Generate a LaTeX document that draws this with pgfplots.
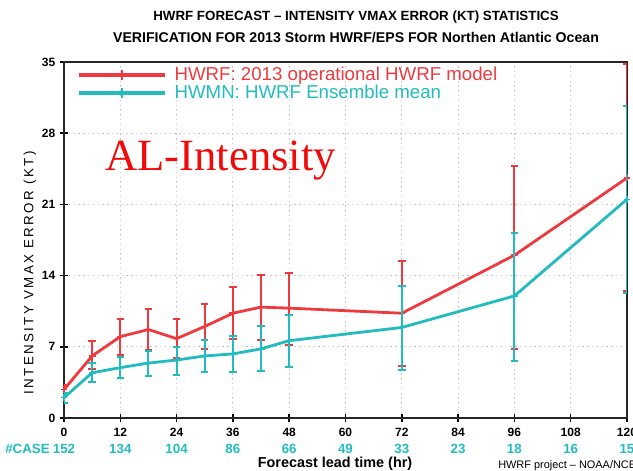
\documentclass[border=0pt]{standalone}
\usepackage{pgfplots}
\pgfplotsset{compat=1.18}
\usepackage{pgfplotstable}
\usepackage{fontspec}
\setmainfont{Liberation Sans}
\newfontfamily\alfont{Liberation Serif}
\definecolor{hred}{RGB}{238,58,62}
\definecolor{hteal}{RGB}{34,188,192}
\definecolor{alred}{RGB}{240,10,10}

\pgfplotstableread{
x y ep em
0 2.8 0.45 0.5
6 6.1 1.5 1.3
12 8.0 1.7 1.8
18 8.7 2.0 2.0
24 7.8 1.9 1.9
30 9.0 2.2 2.2
36 10.3 2.55 2.5
42 10.9 3.15 3.2
48 10.8 3.5 3.6
72 10.3 5.1 5.15
96 16.0 8.8 9.2
120 23.6 11.2 11.1
}\hwrf

\pgfplotstableread{
x y ep em
0 2.0 0.45 0.55
6 4.45 0.95 0.95
12 4.95 1.05 1.0
18 5.4 1.2 1.3
24 5.7 1.3 1.5
30 6.1 1.6 1.55
36 6.3 1.8 1.75
42 6.8 2.2 2.15
48 7.6 2.5 2.6
72 8.9 4.1 4.2
96 12.0 6.2 6.4
120 21.5 9.2 9.2
}\hwmn

\begin{document}
\begin{tikzpicture}
\begin{axis}[
  at={(0,0)}, anchor=south west,
  scale only axis, width=422.25pt, height=267pt,
  xmin=0, xmax=120, ymin=0, ymax=35,
  xtick={0,12,...,120}, ytick={0,7,...,35},
  tick pos=left, tick align=center, major tick length=6pt,
  tick style={line width=1.1pt, black},
  axis line style={line width=1.4pt, black!85},
  grid=major,
  major grid style={dash pattern=on 1pt off 2.6pt, line width=0.7pt, gray!45},
  /pgf/number format/assume math mode=true,
  tick label style={font=\bfseries\fontsize{9}{10}\selectfont},
  xticklabel style={yshift=-1pt},
  clip mode=individual,
  title={{\fontsize{10}{16.5}\selectfont HWRF FORECAST -- INTENSITY VMAX ERROR (KT) STATISTICS}\\{\fontsize{10.6}{16.5}\selectfont VERIFICATION FOR 2013 Storm HWRF/EPS FOR Northen Atlantic Ocean}},
  title style={at={(axis description cs:0.5187,1.0758)}, anchor=center, align=center, font=\bfseries\fontsize{10}{16.5}\selectfont},
  xlabel={Forecast lead time (hr)},
  xlabel style={at={(axis description cs:0.4814,-0.1292)}, anchor=center, inner sep=0pt, font=\bfseries\fontsize{10.8}{11}\selectfont},
  ylabel={INTENSITY VMAX ERROR (KT)},
  ylabel style={at={(axis description cs:-0.0604,0.4073)}, anchor=center, rotate=0, font=\fontsize{10}{10}\selectfont\addfontfeature{LetterSpace=18}},
  legend cell align=left,
  legend style={at={(axis description cs:0.0231,0.9831)}, anchor=north west, draw=none, fill=none,
    inner sep=0pt, row sep=3.2pt, column sep=5.5pt,
    nodes={inner sep=0pt, text height=9.5pt, text depth=0.5pt},
    font=\fontsize{14}{14}\selectfont},
  legend image code/.code={
    \draw[#1, line width=3pt, mark=none] (0pt,0pt) -- (64.5pt,0pt);
    \draw[#1, line width=1.2pt, mark=none] (32.25pt,-3.75pt) -- (32.25pt,3.75pt);
  },
]
\addplot[color=hred, line width=2.1pt, mark=+, mark size=2.6pt,
  mark options={line width=1.2pt},
  error bars/.cd, y dir=both, y explicit, error mark=-,
  error bar style={line width=1.5pt, color=hred},
  error mark options={rotate=90, line width=1.5pt, mark size=2.8pt, color=hred}]
  table[x=x, y=y, y error plus=ep, y error minus=em] {\hwrf};
\addlegendentry{\textcolor{hred}{HWRF:\ 2013 operational HWRF model}}
\addplot[color=hteal, line width=2.1pt, mark=+, mark size=2.6pt,
  mark options={line width=1.2pt},
  error bars/.cd, y dir=both, y explicit, error mark=-,
  error bar style={line width=1.5pt, color=hteal},
  error mark options={rotate=90, line width=1.5pt, mark size=2.8pt, color=hteal}]
  table[x=x, y=y, y error plus=ep, y error minus=em] {\hwmn};
\addlegendentry{\textcolor{hteal}{HWMN:\ HWRF Ensemble mean}}

\node[anchor=base west, font=\alfont\fontsize{33.5}{34}\selectfont, text=alred, inner sep=0pt]
  at (axis description cs:0.0728,0.6966) {AL-Intensity};

\begin{scope}[every node/.style={font=\bfseries\fontsize{10}{11}\selectfont, text=hteal, inner sep=0pt, anchor=center}]
\node at (axis cs:0,0) [yshift=-22.9pt] {152};
\node at (axis cs:12,0) [yshift=-22.9pt] {134};
\node at (axis cs:24,0) [yshift=-22.9pt] {104};
\node at (axis cs:36,0) [yshift=-22.9pt] {86};
\node at (axis cs:48,0) [yshift=-22.9pt] {66};
\node at (axis cs:60,0) [yshift=-22.9pt] {49};
\node at (axis cs:72,0) [yshift=-22.9pt] {33};
\node at (axis cs:84,0) [yshift=-22.9pt] {23};
\node at (axis cs:96,0) [yshift=-22.9pt] {18};
\node at (axis cs:108,0) [yshift=-22.9pt] {16};
\node at (axis cs:120,0) [yshift=-22.9pt] {15};
\node[anchor=east] at (axis cs:0,0) [xshift=-10.5pt, yshift=-22.9pt] {\#CASE};
\end{scope}
\node[anchor=west, font=\fontsize{8.2}{9}\selectfont, inner sep=0pt] at (axis cs:0,0) [xshift=325.5pt, yshift=-36pt] {HWRF project -- NOAA/NCEP};
\end{axis}
\pgfresetboundingbox
\path[use as bounding box] (-48pt,-39.75pt) rectangle (426.75pt,313.5pt);
\end{tikzpicture}
\end{document}
